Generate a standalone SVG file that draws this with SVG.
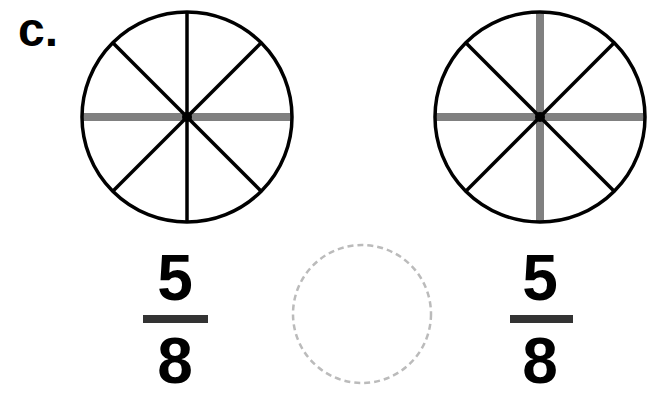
<svg xmlns="http://www.w3.org/2000/svg" width="651" height="401" viewBox="0 0 651 401">
<style>
.rim{fill:none;stroke:#000;stroke-width:3.5}
.blk{stroke:#000;stroke-width:3.5}
.gry{stroke:#808080;stroke-width:8}
.num{font-family:"Liberation Sans",Arial,sans-serif;font-weight:bold;font-size:64px;fill:#000;text-anchor:middle}
.bar{stroke:#333;stroke-width:8}
</style>
<rect width="651" height="401" fill="#fff"/>
<text x="18" y="46" style="font-family:'Liberation Sans',Arial,sans-serif;font-weight:bold;font-size:48px">c.</text>
<g id="circle-left">
<line class="gry" x1="82" y1="117" x2="292" y2="117"/>
<line class="blk" x1="187" y1="12" x2="187" y2="222"/>
<line class="blk" x1="112.8" y1="42.8" x2="261.2" y2="191.2"/>
<line class="blk" x1="261.2" y1="42.8" x2="112.8" y2="191.2"/>
<circle class="rim" cx="187" cy="117" r="105"/>
<circle cx="187" cy="117" r="5" fill="#000"/>
</g>
<g id="circle-right">
<line class="gry" x1="435" y1="117" x2="645" y2="117"/>
<line class="gry" x1="540" y1="12" x2="540" y2="222"/>
<line class="blk" x1="465.8" y1="42.8" x2="614.2" y2="191.2"/>
<line class="blk" x1="614.2" y1="42.8" x2="465.8" y2="191.2"/>
<circle class="rim" cx="540" cy="117" r="105"/>
<circle cx="540" cy="117" r="5" fill="#000"/>
</g>
<g id="fraction-left">
<text class="num" x="175" y="300">5</text>
<line class="bar" x1="143" y1="319" x2="208" y2="319"/>
<text class="num" x="175" y="383">8</text>
</g>
<g id="blank-circle">
<circle cx="362" cy="314" r="69" fill="none" stroke="#bbb" stroke-width="2.5" stroke-dasharray="6 4"/>
</g>
<g id="fraction-right">
<text class="num" x="540" y="300">5</text>
<line class="bar" x1="510" y1="319" x2="573" y2="319"/>
<text class="num" x="540" y="383">8</text>
</g>
</svg>
